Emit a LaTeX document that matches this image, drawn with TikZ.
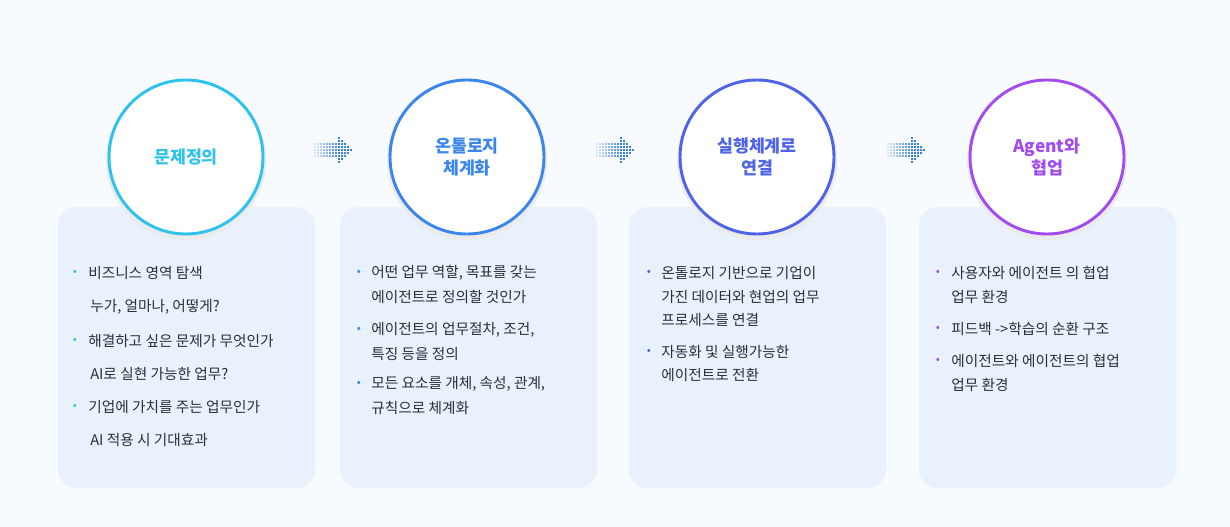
\documentclass[tikz,border=0pt]{standalone}
\usepackage{fontspec}
\setmainfont{Noto Sans CJK KR}
\newfontfamily\boldkr{Noto Sans CJK KR Bold}
\begin{document}
\begin{tikzpicture}[x=0.75pt,y=-0.75pt,
  card/.style={fill=cardbg,rounded corners=14pt},
  ring/.style={circle,fill=white,line width=2.2pt,minimum size=154*0.75pt,inner sep=0pt,align=center,font=\fontsize{13}{17}\selectfont\bfseries},
  item/.style={anchor=west,font=\fontsize{11}{14}\selectfont,text=txt,inner sep=0pt},
  dotb/.style={anchor=center,font=\fontsize{9}{9}\selectfont,inner sep=0pt}]
\definecolor{bg}{HTML}{F7FAFE}
\definecolor{cardbg}{HTML}{E8F1FC}
\definecolor{txt}{HTML}{2B2F36}
\definecolor{c1}{HTML}{2EC2EE}
\definecolor{c2}{HTML}{3A86EE}
\definecolor{c3}{HTML}{4F63EA}
\definecolor{c4}{HTML}{A24BF0}
\definecolor{ar}{HTML}{3A7FD8}
\fill[bg] (0,0) rectangle (1230,527);
\useasboundingbox (0,0) rectangle (1230,527);
\foreach \x/\c in {58/c1,340/c2,629/c3,919/c4}{
  \fill[card] (\x,207) rectangle (\x+257,488);
}
\foreach \cx in {186,467,757,1047}{
  \fill[black!8] (\cx,160) circle (80);
}
\node[ring,draw=c1,text=c1] (n1) at (186,157) {문제정의};
\node[ring,draw=c2,text=c2] (n2) at (467,157) {온톨로지\\체계화};
\node[ring,draw=c3,text=c3] (n3) at (757,157) {실행체계로\\연결};
\node[ring,draw=c4,text=c4] (n4) at (1047,157) {Agent와\\협업};
% arrows
\foreach \ax in {330,612,903}{
  \foreach \i in {0,...,7}{
    \foreach \j in {-2,...,2}{
      \pgfmathsetmacro\op{0.15+0.1*\i}
      \fill[ar,opacity=\op] (\ax-16+3*\i,150+3*\j-1) rectangle +(2,2);
    }
  }
  \foreach \i in {0,...,4}{
    \pgfmathtruncatemacro\h{4-\i}
    \foreach \j in {-\h,...,\h}{
      \fill[ar] (\ax+8+3*\i,150+3*\j-1) rectangle +(2,2);
    }
  }
}
% box 1
\foreach \y/\t/\b in {273/비즈니스 영역 탐색/1,307/{누가, 얼마나, 어떻게?}/0,341/해결하고 싶은 문제가 무엇인가/1,374/AI로 실현 가능한 업무?/0,407/기업에 가치를 주는 업무인가/1,440/AI 적용 시 기대효과/0}{
  \node[item] at (\ifnum\b=1 88\else 90\fi,\y) {\t};
  \ifnum\b=1 \node[dotb,text=c1] at (75,\y) {•};\fi
}
% box 2
\foreach \y/\t/\b in {273/{어떤 업무 역할, 목표를 갖는}/1,297/에이전트로 정의할 것인가/0,330/{에이전트의 업무절차, 조건,}/1,354/특징 등을 정의/0,384/{모든 요소를 개체, 속성, 관계,}/1,408/규칙으로 체계화/0}{
  \node[item] at (371,\y) {\t};
  \ifnum\b=1 \node[dotb,text=c2] at (359,\y) {•};\fi
}
% box 3
\foreach \y/\t/\b in {273/온톨로지 기반으로 기업이/1,297/가진 데이터와 현업의 업무/0,320/프로세스를 연결/0,352/자동화 및 실행가능한/1,375/에이전트로 전환/0}{
  \node[item] at (661,\y) {\t};
  \ifnum\b=1 \node[dotb,text=c3] at (649,\y) {•};\fi
}
% box 4
\foreach \y/\t/\b in {273/사용자와 에이전트 의 협업/1,297/업무 환경/0,329/{피드백 ->학습의 순환 구조}/1,361/에이전트와 에이전트의 협업/1,385/업무 환경/0}{
  \node[item] at (951,\y) {\t};
  \ifnum\b=1 \node[dotb,text=c4] at (938,\y) {•};\fi
}
\end{tikzpicture}
\end{document}
